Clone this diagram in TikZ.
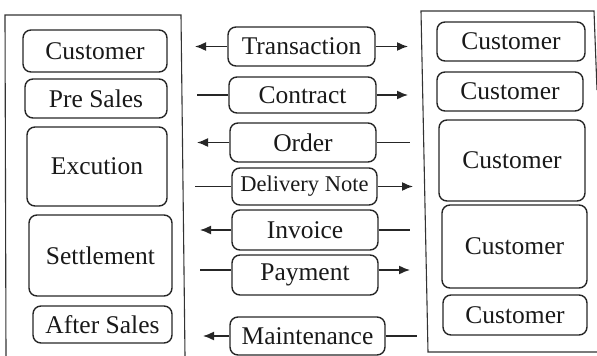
\documentclass[tikz,border=0pt]{standalone}
\usepackage{fontspec}
\setmainfont{Liberation Serif}
\usetikzlibrary{arrows.meta}
\begin{document}
\begin{tikzpicture}[x=1pt,y=-1pt,
  frame/.style={draw=black!80, line width=1.1pt},
  stage/.style={draw=black!85, line width=1.4pt, rounded corners=8pt,
    inner sep=0pt, text=black!90, font=\fontsize{25.5}{28}\selectfont},
  doc/.style={stage},
  link/.style={draw=black!85, line width=1.5pt},
  tip/.style={link, -{Latex[length=11pt,width=9pt]}}]
\useasboundingbox (0,0) rectangle (597,356);

% outer frames
\draw[frame] (6,356) -- (5,15) -- (181,15) -- (185,356);
\draw[frame] (597,352) -- (428,352) -- (421,11) -- (594,11) -- (597,90);

% left column: selling process stages
\node[stage, minimum width=144, minimum height=42] (lc) at (95,51) {Customer};
\node[stage, minimum width=142, minimum height=39] (lp) at (96,98.5) {Pre Sales};
\node[stage, minimum width=140, minimum height=79] (le) at (97,166.5) {Excution};
\node[stage, minimum width=143, minimum height=81] (ls) at (100.5,255.5) {Settlement};
\node[stage, minimum width=139, minimum height=37] (la) at (102.5,324.5) {After Sales};

% middle column: documents exchanged
\node[doc, minimum width=147, minimum height=39] (tr) at (301.5,46.5) {Transaction};
\node[doc, minimum width=147, minimum height=36] (co) at (302.5,95) {Contract};
\node[doc, minimum width=146, minimum height=39] (or) at (303,142.5) {Order};
\node[doc, minimum width=145, minimum height=37, font=\fontsize{22.5}{25}\selectfont] (dn) at (304.5,186.5) {Delivery Note};
\node[doc, minimum width=146, minimum height=40] (in) at (305,230) {Invoice};
\node[doc, minimum width=146, minimum height=40] (pa) at (305,275) {Payment};
\node[doc, minimum width=155, minimum height=38] (ma) at (307.5,336) {Maintenance};

% right column: customer side
\node[stage, minimum width=148, minimum height=39] (r1) at (511,41.5) {Customer};
\node[stage, minimum width=146, minimum height=39] (r2) at (510,91.5) {Customer};
\node[stage, minimum width=146, minimum height=81] (r3) at (512,160.5) {Customer};
\node[stage, minimum width=145, minimum height=83] (r4) at (514.5,246.5) {Customer};
\node[stage, minimum width=144, minimum height=40] (r5) at (515,315) {Customer};

% free ends of the connectors
\coordinate (trL) at (195,46.5);  \coordinate (trR) at (408,46.5);
\coordinate (coL) at (197,95);    \coordinate (coR) at (408,95);
\coordinate (orL) at (197,142.5); \coordinate (orR) at (410,142.5);
\coordinate (dnL) at (195,186.5); \coordinate (dnR) at (413,186.5);
\coordinate (inL) at (200,230);   \coordinate (inR) at (410,230);
\coordinate (paL) at (200,270);   \coordinate (paR) at (410,270);
\coordinate (maL) at (203,336);   \coordinate (maR) at (417,336);

% connectors
\draw[tip] (tr.west) -- (trL);
\draw[tip] (tr.east) -- (trR);
\draw[link] (coL) -- (co.west);
\draw[tip] (co.east) -- (coR);
\draw[tip] (or.west) -- (orL);
\draw[link] (or.east) -- (orR);
\draw[link] (dnL) -- (dn.west);
\draw[tip] (dn.east) -- (dnR);
\draw[tip] (in.west) -- (inL);
\draw[link] (in.east) -- (inR);
\draw[link] (paL) -- (pa.west |- paL);
\draw[tip] (pa.east |- paR) -- (paR);
\draw[tip] (ma.west) -- (maL);
\draw[link] (ma.east) -- (maR);
\end{tikzpicture}
\end{document}
